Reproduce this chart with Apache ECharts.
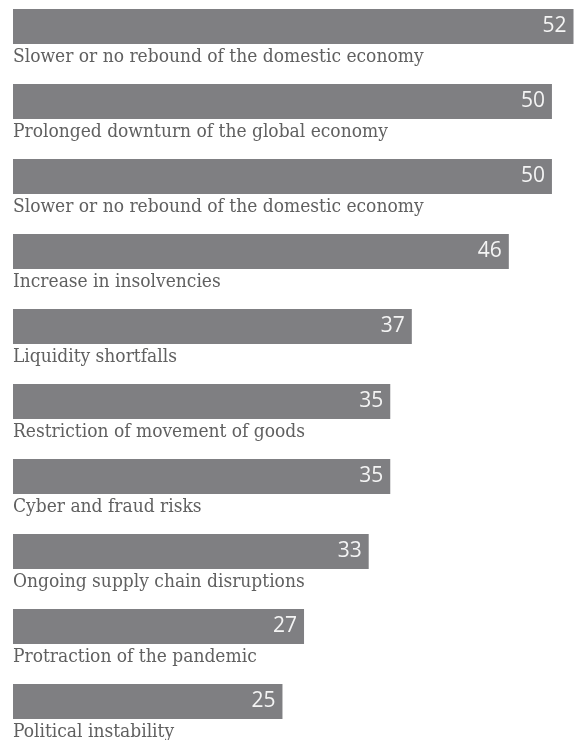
<!DOCTYPE html>
<html>
<head>
<meta charset="utf-8">
<script src="https://cdn.jsdelivr.net/npm/echarts@6/dist/echarts.min.js"></script>
<style>html,body{margin:0;padding:0;background:#fff;}#c{width:575px;height:740px;}</style>
</head>
<body>
<div id="c"></div>
<script>
var categories = [
  "Slower or no rebound of the domestic economy",
  "Prolonged downturn of the global economy",
  "Slower or no rebound of the domestic economy",
  "Increase in insolvencies",
  "Liquidity shortfalls",
  "Restriction of movement of goods",
  "Cyber and fraud risks",
  "Ongoing supply chain disruptions",
  "Protraction of the pandemic",
  "Political instability"
];
var values = [52, 50, 50, 46, 37, 35, 35, 33, 27, 25];

var chart = echarts.init(document.getElementById('c'), null, {renderer: 'canvas'});
chart.setOption({
  animation: false,
  grid: {left: 13, right: 1.5, top: -11, height: 750, containLabel: false, outerBoundsMode: 'none'},
  xAxis: {type: 'value', min: 0, max: 52, show: false},
  yAxis: {type: 'category', data: categories, inverse: true, show: false},
  series: [
    {
      type: 'bar',
      data: values,
      barWidth: 35,
      itemStyle: {color: '#7f7f82'},
      label: {
        show: true,
        position: 'insideRight',
        distance: 7,
        color: '#f4f4f4',
        fontFamily: 'Open Sans',
        fontSize: 21,
        formatter: '{c}'
      },
      silent: true
    },
    {
      type: 'bar',
      data: values,
      barWidth: 35,
      barGap: '-100%',
      itemStyle: {color: 'rgba(0,0,0,0)'},
      label: {
        show: true,
        position: [0, 39],
        align: 'left',
        verticalAlign: 'top',
        color: '#606060',
        fontFamily: '"DejaVu Serif Condensed", "DejaVu Serif"',
        fontSize: 19,
        formatter: function (p) { return p.name; }
      },
      silent: true
    }
  ]
});
</script>
</body>
</html>
